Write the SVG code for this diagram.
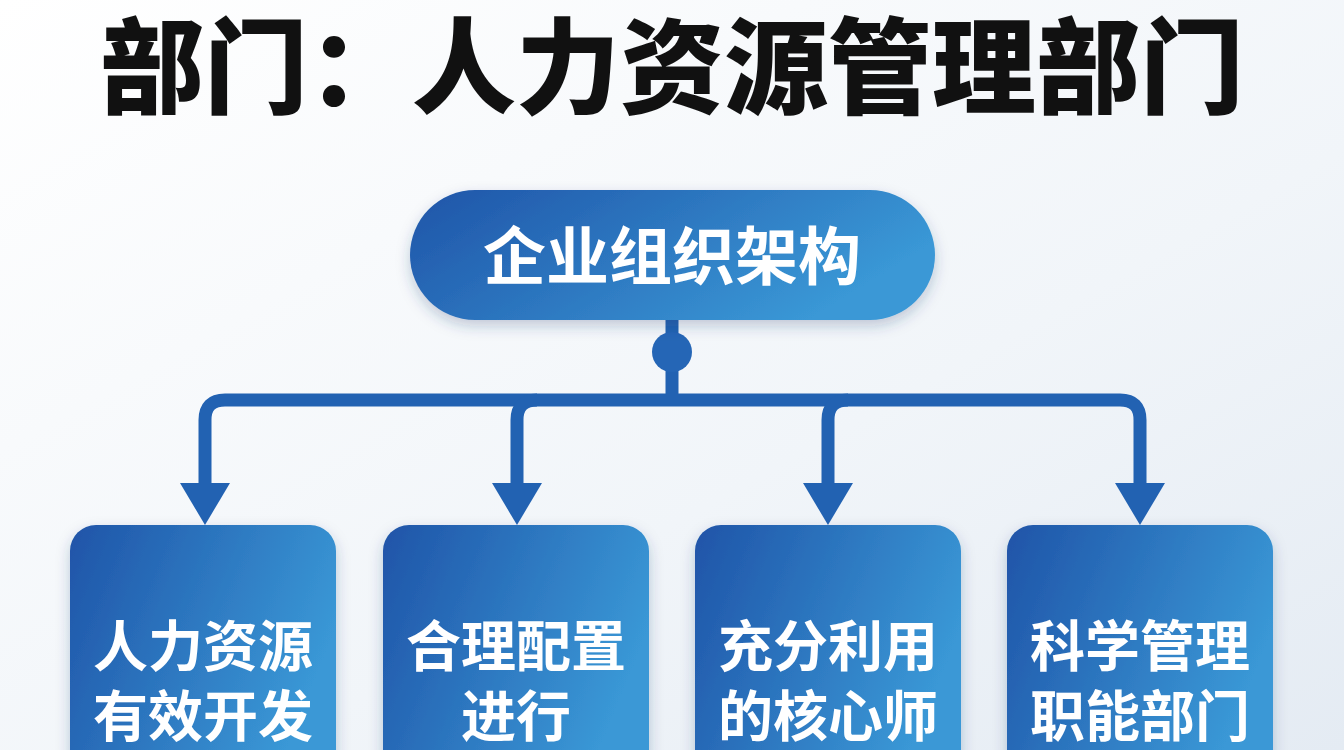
<svg xmlns="http://www.w3.org/2000/svg" width="1344" height="750" viewBox="0 0 1344 750">
<defs>
<linearGradient id="bg" x1="0" y1="0" x2="1" y2="1"><stop offset="0" stop-color="#ffffff"/><stop offset="0.6" stop-color="#f1f5f9"/><stop offset="1" stop-color="#e4ebf3"/></linearGradient>
<linearGradient id="nb" x1="0" y1="0" x2="1" y2="0.4"><stop offset="0" stop-color="#1f54a8"/><stop offset="1" stop-color="#3a98d6"/></linearGradient>
<filter id="sh" x="-10%" y="-10%" width="120%" height="130%"><feDropShadow dx="0" dy="6" stdDeviation="7" flood-color="#1c3f70" flood-opacity="0.25"/></filter>
<style>
.t{font-family:"Noto Sans CJK SC",sans-serif;font-weight:700;fill:#ffffff;text-anchor:middle}
.ttl{font-family:"Noto Sans CJK SC",sans-serif;font-weight:900;fill:#111111;text-anchor:middle}
.c{fill:none;stroke:#2262b2;stroke-width:13}
.a{fill:#2262b2}
</style>
</defs>
<rect width="1344" height="750" fill="url(#bg)"/>
<text class="ttl" x="672" y="106" font-size="104">部门：人力资源管理部门</text>
<g id="connectors">
<line class="c" x1="672" y1="318" x2="672" y2="400"/>
<circle cx="672" cy="352" r="20" fill="#2566b6"/>
<path class="c" d="M205 490 V420 Q205 400 225 400 H1120 Q1140 400 1140 420 V490"/>
<path class="c" d="M517 490 V420 Q517 400 537 400 M828 490 V420 Q828 400 848 400"/>
<polygon class="a" points="180,483 230,483 205,525"/>
<polygon class="a" points="492,483 542,483 517,525"/>
<polygon class="a" points="803,483 853,483 828,525"/>
<polygon class="a" points="1115,483 1165,483 1140,525"/>
</g>
<g id="root" filter="url(#sh)"><rect x="410" y="190" width="525" height="130" rx="65" fill="url(#nb)"/><text class="t" x="672" y="279" font-size="63" font-weight="500">企业组织架构</text></g>
<g id="n1" filter="url(#sh)"><rect x="70" y="525" width="266" height="260" rx="26" fill="url(#nb)"/><text class="t" x="203" y="666" font-size="55">人力资源</text><text class="t" x="203" y="736" font-size="55">有效开发</text></g>
<g id="n2" filter="url(#sh)"><rect x="383" y="525" width="266" height="260" rx="26" fill="url(#nb)"/><text class="t" x="516" y="666" font-size="55">合理配置</text><text class="t" x="516" y="736" font-size="55">进行</text></g>
<g id="n3" filter="url(#sh)"><rect x="695" y="525" width="266" height="260" rx="26" fill="url(#nb)"/><text class="t" x="828" y="666" font-size="55">充分利用</text><text class="t" x="828" y="736" font-size="55">的核心师</text></g>
<g id="n4" filter="url(#sh)"><rect x="1007" y="525" width="266" height="260" rx="26" fill="url(#nb)"/><text class="t" x="1140" y="666" font-size="55">科学管理</text><text class="t" x="1140" y="736" font-size="55">职能部门</text></g>
</svg>
